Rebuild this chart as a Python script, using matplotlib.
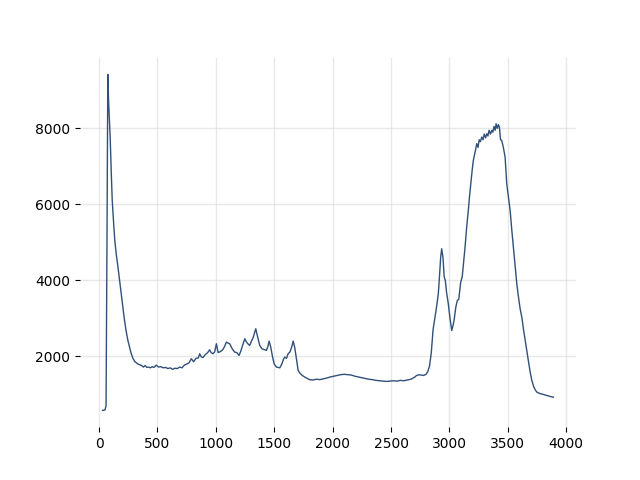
import matplotlib
matplotlib.use("Agg")
import matplotlib.pyplot as plt

wavenumber = [
    30, 50, 60, 68, 75, 82, 90, 96, 105, 113,
    125, 135, 147, 160, 176, 190, 204, 218, 233, 247,
    261, 275, 290, 305, 320, 333, 350, 365, 380, 395,
    410, 425, 440, 455, 470, 490, 510, 530, 550, 570,
    590, 610, 630, 650, 670, 690, 710, 730, 750, 770,
    790, 810, 830, 850, 862, 875, 890, 910, 930, 947,
    960, 976, 990, 1005, 1020, 1040, 1060, 1075, 1090, 1105,
    1120, 1140, 1162, 1180, 1199, 1215, 1230, 1248, 1262, 1275,
    1290, 1305, 1320, 1342, 1355, 1376, 1395, 1415, 1433, 1445,
    1456, 1470, 1485, 1500, 1519, 1535, 1548, 1565, 1580, 1590,
    1605, 1619, 1635, 1650, 1662, 1675, 1690, 1705, 1720, 1740,
    1762, 1785, 1805, 1830, 1860, 1890, 1920, 1950, 1980, 2010,
    2040, 2070, 2100, 2130, 2160, 2190, 2220, 2250, 2280, 2310,
    2340, 2370, 2400, 2430, 2460, 2490, 2520, 2550, 2580, 2610,
    2640, 2670, 2700, 2720, 2740, 2760, 2780, 2800, 2815, 2830,
    2845, 2860, 2875, 2890, 2905, 2915, 2925, 2934, 2945, 2955,
    2965, 2975, 2990, 3005, 3020, 3030, 3040, 3055, 3068, 3080,
    3097, 3110, 3122, 3134, 3148, 3162, 3172, 3183, 3195, 3205,
    3215, 3225, 3234, 3245, 3255, 3265, 3277, 3288, 3298, 3310,
    3320, 3330, 3340, 3352, 3363, 3372, 3382, 3392, 3400, 3410,
    3420, 3428, 3438, 3448, 3462, 3477, 3491, 3505, 3520, 3535,
    3548, 3562, 3577, 3592, 3606, 3620, 3635, 3650, 3663, 3678,
    3692, 3706, 3720, 3735, 3749, 3770, 3790, 3805, 3825, 3850,
    3870, 3891,
]

intensity = [
    580, 590, 700, 5000, 9420, 8700, 8100, 7700, 6800, 6100,
    5500, 5050, 4700, 4400, 4000, 3650, 3300, 2950, 2650, 2420,
    2250, 2080, 1950, 1870, 1830, 1800, 1780, 1760, 1720, 1760,
    1710, 1720, 1700, 1730, 1710, 1770, 1720, 1730, 1700, 1710,
    1680, 1700, 1660, 1690, 1680, 1720, 1700, 1770, 1800, 1830,
    1940, 1860, 1950, 1960, 2070, 1990, 1970, 2050, 2100, 2175,
    2100, 2070, 2120, 2333, 2100, 2130, 2180, 2260, 2378, 2350,
    2330, 2200, 2113, 2100, 2026, 2150, 2300, 2465, 2380, 2330,
    2290, 2400, 2500, 2728, 2550, 2290, 2200, 2180, 2158, 2250,
    2403, 2250, 2000, 1800, 1720, 1710, 1700, 1800, 1930, 1982,
    1950, 2070, 2120, 2250, 2403, 2250, 1950, 1631, 1560, 1500,
    1456, 1420, 1386, 1380, 1400, 1390, 1410, 1430, 1460, 1480,
    1500, 1520, 1530, 1520, 1510, 1480, 1460, 1440, 1420, 1400,
    1390, 1370, 1360, 1350, 1342, 1350, 1360, 1350, 1370, 1360,
    1380, 1400, 1450, 1500, 1517, 1510, 1500, 1530, 1600, 1750,
    2100, 2700, 3000, 3300, 3650, 4100, 4600, 4834, 4600, 4100,
    4000, 3700, 3400, 3000, 2684, 2800, 2947, 3300, 3474, 3500,
    3955, 4100, 4500, 4876, 5400, 5842, 6200, 6544, 6900, 7158,
    7300, 7450, 7597, 7500, 7700, 7650, 7771, 7700, 7850, 7750,
    7860, 7800, 7950, 7850, 7947, 7900, 8050, 7950, 8123, 8000,
    8100, 8035, 7700, 7684, 7500, 7245, 6544, 6200, 5842, 5300,
    4876, 4400, 3913, 3550, 3250, 3034, 2700, 2400, 2158, 1850,
    1580, 1368, 1220, 1120, 1061, 1030, 1010, 1000, 980, 960,
    940, 929,
]

fig, ax = plt.subplots(figsize=(6.4, 4.8), dpi=100)
ax.plot(wavenumber, intensity, color="#30507a", linewidth=1.0)
ax.grid(True, color="#d9d9d9", linewidth=1.0, alpha=0.6)
ax.set_axisbelow(True)
for s in ax.spines.values():
    s.set_visible(False)
ax.set_xticks([0, 500, 1000, 1500, 2000, 2500, 3000, 3500, 4000])
ax.set_yticks([2000, 4000, 6000, 8000])
fig.savefig("out.png", dpi=100)
